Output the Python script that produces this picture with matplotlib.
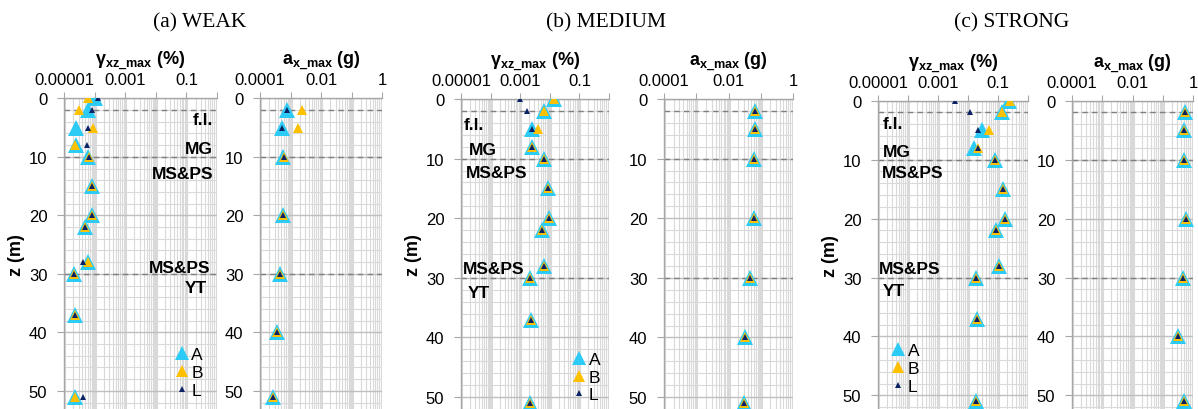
import matplotlib
matplotlib.use('Agg')
import matplotlib.pyplot as plt
from matplotlib.lines import Line2D
from matplotlib.transforms import blended_transform_factory

plt.rcParams['font.family'] = ['Liberation Sans', 'DejaVu Sans']
plt.rcParams['mathtext.fontset'] = 'custom'
plt.rcParams['mathtext.rm'] = 'Liberation Sans'
plt.rcParams['mathtext.it'] = 'Liberation Sans:italic'
plt.rcParams['mathtext.bf'] = 'Liberation Sans:bold'

# depths (m)
gamma_depth = [0, 2, 5, 8, 10, 15, 20, 22, 28, 30, 37, 51]
acc_depth = [2, 5, 10, 20, 30, 40, 51]

# max shear strain (%)
weak_gamma_A = [1.0e-4, 6.0e-5, 2.5e-5, 2.5e-5, 6.3e-5, 8.1e-5, 8.1e-5, 4.9e-5, 5.9e-5, 2.1e-5, 2.3e-5, 2.3e-5]
weak_gamma_B = [6.3e-5, 3.2e-5, 9.2e-5, 2.3e-5, 6.8e-5, 8.1e-5, 8.1e-5, 4.9e-5, 5.9e-5, 2.1e-5, 2.3e-5, 2.3e-5]
weak_gamma_L = [1.25e-4, 8.5e-5, 6.3e-5, 5.6e-5, 6.8e-5, 8.1e-5, 8.1e-5, 4.9e-5, 4.1e-5, 2.1e-5, 2.3e-5, 4.3e-5]

medium_gamma_A = [0.014, 0.0062, 0.0025, 0.0026, 0.0062, 0.0089, 0.0096, 0.0054, 0.0062, 0.0021, 0.0023, 0.0022]
medium_gamma_B = [0.014, 0.0062, 0.0041, 0.0026, 0.0062, 0.0089, 0.0096, 0.0054, 0.0062, 0.0021, 0.0023, 0.0022]
medium_gamma_L = [0.00095, 0.0017, 0.0026, 0.0026, 0.0062, 0.0089, 0.0096, 0.0054, 0.0062, 0.0021, 0.0023, 0.0022]

strong_gamma_A = [0.23, 0.135, 0.029, 0.016, 0.081, 0.15, 0.17, 0.085, 0.11, 0.019, 0.020, 0.018]
strong_gamma_B = [0.25, 0.135, 0.049, 0.021, 0.081, 0.15, 0.17, 0.085, 0.11, 0.019, 0.020, 0.018]
strong_gamma_L = [0.0037, 0.012, 0.021, 0.021, 0.081, 0.15, 0.17, 0.085, 0.11, 0.019, 0.020, 0.018]

# max horizontal acceleration (g)
weak_acc_A = [7.5e-4, 5.1e-4, 5.5e-4, 5.8e-4, 4.5e-4, 3.5e-4, 2.7e-4]
weak_acc_B = [2.3e-3, 1.7e-3, 6.3e-4, 5.8e-4, 4.5e-4, 3.5e-4, 2.7e-4]
weak_acc_L = [7.5e-4, 5.1e-4, 6.3e-4, 5.8e-4, 4.5e-4, 3.5e-4, 2.7e-4]

medium_acc_A = [0.068, 0.065, 0.062, 0.062, 0.045, 0.033, 0.030]
medium_acc_B = [0.068, 0.065, 0.062, 0.062, 0.045, 0.033, 0.030]
medium_acc_L = [0.068, 0.065, 0.062, 0.062, 0.045, 0.033, 0.030]

strong_acc_A = [0.55, 0.50, 0.50, 0.58, 0.46, 0.33, 0.52]
strong_acc_B = [0.55, 0.50, 0.50, 0.58, 0.46, 0.33, 0.52]
strong_acc_L = [0.55, 0.50, 0.50, 0.58, 0.46, 0.33, 0.52]

titles = ['(a) WEAK', '(b) MEDIUM', '(c) STRONG']
series_names = ['A', 'B', 'L']
boundaries = [2, 10, 30]
zone_names = ['f.l.', 'MG', 'MS&PS', 'MS&PS', 'YT']

gamma_ticks = [1e-5, 1e-4, 1e-3, 1e-2, 1e-1, 1]
gamma_labels = ['0.00001', '', '0.001', '', '0.1', '']
acc_ticks = [1e-4, 1e-3, 1e-2, 1e-1, 1]
acc_labels = ['0.0001', '', '0.01', '', '1']

gammas = [(weak_gamma_A, weak_gamma_B, weak_gamma_L),
          (medium_gamma_A, medium_gamma_B, medium_gamma_L),
          (strong_gamma_A, strong_gamma_B, strong_gamma_L)]
accs = [(weak_acc_A, weak_acc_B, weak_acc_L),
        (medium_acc_A, medium_acc_B, medium_acc_L),
        (strong_acc_A, strong_acc_B, strong_acc_L)]

# layout in pixels: gamma (left, right), acc (left, right), top, z at bottom edge
W, H = 1198, 410
layout = [((64, 217), (260, 382), 99.3, 53.1),
          ((461, 609), (664, 793), 100.0, 51.9),
          ((878, 1028), (1072, 1193), 101.7, 52.3)]
title_x = [200, 606, 1012]
# zone label placement (x in axes fraction, z, ha)
zone_pos = [
    [(0.976, 3.7, 'right'), (0.976, 8.5, 'right'), (0.976, 12.8, 'right'),
     (0.954, 28.9, 'right'), (0.933, 32.3, 'right')],
    [(0.02, 4.2, 'left'), (0.054, 8.4, 'left'), (0.034, 12.3, 'left'),
     (0.014, 28.4, 'left'), (0.047, 32.5, 'left')],
    [(0.031, 3.9, 'left'), (0.031, 8.6, 'left'), (0.025, 12.1, 'left'),
     (0.005, 28.4, 'left'), (0.031, 32.2, 'left')],
]
legend_pos = [(0.82, 0.118), (0.85, 0.103), (0.185, 0.132)]

colors = ['#2CCBF5', '#FFC000', '#0B2265']
sizes = [11.5, 7.5, 4.2]
grid_col = '#D9D9D9'
spine_col = '#A6A6A6'

fig = plt.figure(figsize=(W / 100, H / 100), dpi=100)


def style_axis(ax, ticks, labels, zmax, xlim):
    ax.set_xscale('log')
    ax.set_xlim(*xlim)
    ax.set_ylim(zmax, 0)
    ax.set_xticks(ticks)
    ax.set_xticklabels(labels)
    ax.xaxis.set_minor_locator(matplotlib.ticker.LogLocator(base=10, subs=range(2, 10), numticks=20))
    ax.xaxis.set_minor_formatter(matplotlib.ticker.NullFormatter())
    ax.set_yticks(range(0, 51, 10))
    ax.set_yticks(range(0, 54, 2), minor=True)
    ax.tick_params(axis='x', which='both', top=True, labeltop=True, bottom=False, labelbottom=False)
    ax.tick_params(axis='x', which='major', length=4, color=spine_col, pad=4, labelsize=12)
    ax.tick_params(axis='x', which='minor', length=0)
    ax.tick_params(axis='y', which='major', length=5, color=spine_col, pad=7, labelsize=12)
    ax.tick_params(axis='y', which='minor', length=0)
    ax.grid(True, axis='x', which='major', color=grid_col, lw=2.2, zorder=0)
    ax.grid(True, axis='x', which='minor', color=grid_col, lw=0.8, zorder=0)
    ax.grid(True, axis='y', which='major', color='#BFBFBF', lw=1.0, zorder=0)
    ax.grid(True, axis='y', which='minor', color=grid_col, lw=0.8, zorder=0)
    ax.set_axisbelow(True)
    for s in ['right', 'bottom']:
        ax.spines[s].set_visible(False)
    for s in ['left', 'top']:
        ax.spines[s].set_color(spine_col)
        ax.spines[s].set_linewidth(1.0)
    for z in boundaries:
        ax.axhline(z, color='#7F7F7F', lw=1.0, ls=(0, (4, 3)), zorder=1)


for i in range(3):
    (gl, gr), (al, ar), top, zmax = layout[i]
    h = (H - top) / H
    ax_g = fig.add_axes([gl / W, 0, (gr - gl) / W, h])
    ax_a = fig.add_axes([al / W, 0, (ar - al) / W, h])
    style_axis(ax_g, gamma_ticks, gamma_labels, zmax, (1e-5, 1))
    style_axis(ax_a, acc_ticks, acc_labels, zmax, (1e-4, 1))

    for vals, c, ms in zip(gammas[i], colors, sizes):
        ax_g.plot(vals, gamma_depth, ls='none', marker='^', color=c, ms=ms, mew=0, zorder=3)
    for vals, c, ms in zip(accs[i], colors, sizes):
        ax_a.plot(vals, acc_depth, ls='none', marker='^', color=c, ms=ms, mew=0, zorder=3)

    ax_g.set_xlabel(r'$\mathbf{\gamma_{xz\_max}}$ (%)', fontsize=13, fontweight='bold', labelpad=5)
    ax_g.xaxis.set_label_position('top')
    ax_a.set_xlabel(r'$\mathbf{a_{x\_max}}$ (g)', fontsize=13, fontweight='bold', labelpad=5)
    ax_a.xaxis.set_label_position('top')
    ax_g.set_ylabel('z (m)', fontsize=13, fontweight='bold', labelpad=3)

    tr = blended_transform_factory(ax_g.transAxes, ax_g.transData)
    for name, (xf, zf, ha) in zip(zone_names, zone_pos[i]):
        ax_g.text(xf, zf, name, transform=tr, ha=ha, va='center', fontsize=12.5,
                  fontweight='bold', zorder=4)

    handles = [Line2D([], [], ls='none', marker='^', color=c, ms=m, mew=0)
               for c, m in zip(colors, [9.5, 8, 4.2])]
    ax_g.legend(handles, series_names, loc='center', bbox_to_anchor=legend_pos[i],
                frameon=False, fontsize=12.5, handlelength=0.7, handletextpad=0.2,
                labelspacing=0.15, borderpad=0, borderaxespad=0)

    fig.text(title_x[i] / W, 1 - 23 / H, titles[i], ha='center', va='center',
             fontsize=15.5, family='Liberation Serif')

fig.savefig('out.png', dpi=100)
